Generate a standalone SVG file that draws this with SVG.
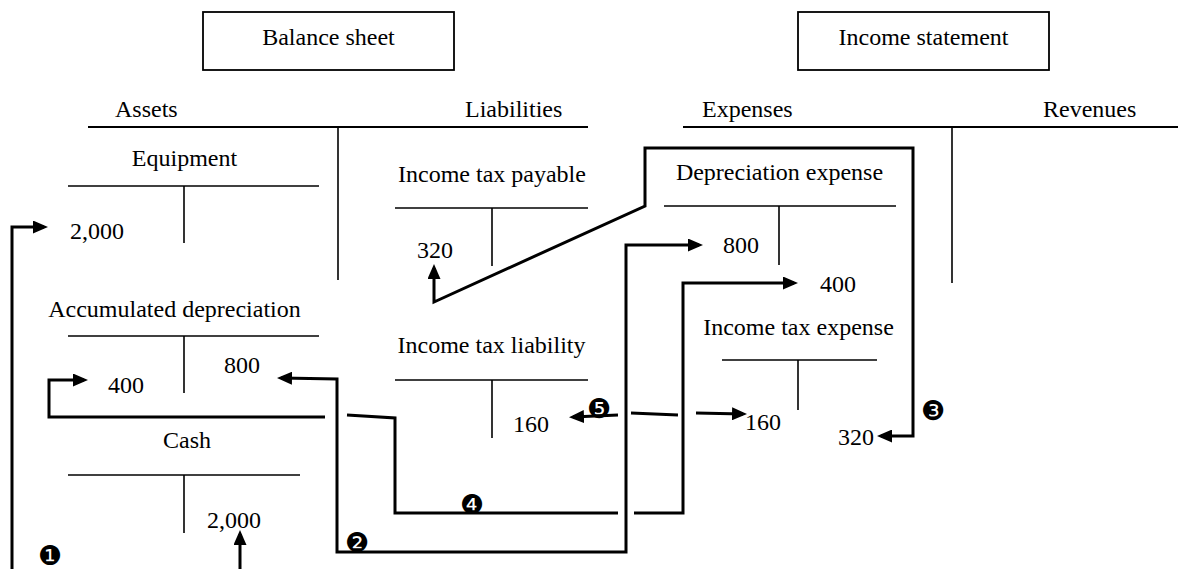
<svg xmlns="http://www.w3.org/2000/svg" width="1178" height="569" viewBox="0 0 1178 569">
  <style>
    text { font-family: "Liberation Serif", "Times New Roman", serif; font-size: 24px; fill: #000; }
    .mid { text-anchor: middle; }
    .tline { stroke: #000; stroke-width: 1.6; fill: none; }
    .rule { stroke: #000; stroke-width: 2.2; fill: none; }
    .box { stroke: #000; stroke-width: 1.8; fill: #fff; }
    .flow { stroke: #000; stroke-width: 3; fill: none; stroke-linejoin: miter; marker-start: url(#head); marker-end: url(#head); }
    .step { font-family: "DejaVu Sans", sans-serif; font-size: 27px; text-anchor: middle; dominant-baseline: central; }
  </style>
  <defs>
    <marker id="head" markerUnits="userSpaceOnUse" viewBox="0 0 15 13" markerWidth="15" markerHeight="13" refX="11" refY="6.5" orient="auto-start-reverse">
      <path d="M0,0 L15,6.5 L0,13 z" fill="#000"/>
    </marker>
  </defs>

  <rect width="1178" height="569" fill="#fff"/>

  <!-- statement headers -->
  <g id="balance-sheet">
    <rect class="box" x="203" y="12" width="251" height="58"/>
    <text class="mid" x="328.5" y="45">Balance sheet</text>
    <text x="115" y="117">Assets</text>
    <text x="465" y="117">Liabilities</text>
    <line class="rule" x1="88" y1="127" x2="588" y2="127"/>
    <line class="tline" x1="338" y1="127" x2="338" y2="280"/>
  </g>

  <g id="income-statement">
    <rect class="box" x="798" y="12" width="251" height="58"/>
    <text class="mid" x="923.5" y="45">Income statement</text>
    <text x="702" y="117">Expenses</text>
    <text x="1043" y="117">Revenues</text>
    <line class="rule" x1="683" y1="127" x2="1178" y2="127"/>
    <line class="tline" x1="952" y1="127" x2="952" y2="283"/>
  </g>

  <!-- T-accounts -->
  <g id="equipment">
    <text class="mid" x="184.5" y="166">Equipment</text>
    <line class="tline" x1="68" y1="186" x2="319" y2="186"/>
    <line class="tline" x1="184" y1="186" x2="184" y2="243"/>
    <text x="70" y="239">2,000</text>
  </g>

  <g id="accumulated-depreciation">
    <text class="mid" x="174.5" y="317">Accumulated depreciation</text>
    <line class="tline" x1="68" y1="336" x2="319" y2="336"/>
    <line class="tline" x1="184" y1="336" x2="184" y2="393"/>
    <text x="108" y="393">400</text>
    <text x="224" y="373">800</text>
  </g>

  <g id="cash">
    <text class="mid" x="187" y="448">Cash</text>
    <line class="tline" x1="68" y1="475" x2="300" y2="475"/>
    <line class="tline" x1="184" y1="475" x2="184" y2="533"/>
    <text x="207" y="528">2,000</text>
  </g>

  <g id="income-tax-payable">
    <text class="mid" x="492" y="182">Income tax payable</text>
    <line class="tline" x1="395" y1="208" x2="588" y2="208"/>
    <line class="tline" x1="492" y1="208" x2="492" y2="266"/>
    <text x="417" y="258">320</text>
  </g>

  <g id="income-tax-liability">
    <text class="mid" x="491.5" y="353">Income tax liability</text>
    <line class="tline" x1="395" y1="380" x2="588" y2="380"/>
    <line class="tline" x1="492" y1="380" x2="492" y2="438"/>
    <text x="513" y="432">160</text>
  </g>

  <g id="depreciation-expense">
    <text class="mid" x="779.5" y="180">Depreciation expense</text>
    <line class="tline" x1="664" y1="206" x2="896" y2="206"/>
    <line class="tline" x1="779" y1="206" x2="779" y2="265"/>
    <text x="723" y="253">800</text>
    <text x="820" y="292">400</text>
  </g>

  <g id="income-tax-expense">
    <text class="mid" x="798.5" y="335">Income tax expense</text>
    <line class="tline" x1="722" y1="360" x2="877" y2="360"/>
    <line class="tline" x1="798" y1="360" x2="798" y2="410"/>
    <text x="745" y="430">160</text>
    <text x="838" y="445">320</text>
  </g>

  <!-- entry connectors; gaps mark crossings -->
  <g id="connectors">
    <path class="flow" d="M240,534 L240,600 L12,600 L12,227 L44,227"/>
    <path class="flow" d="M281,378 L337,379 L337,552 L626,552 L626,245 L699,245"/>
    <path class="flow" d="M434,268 L434,302 L645,206 L645,148 L913,148 L913,436 L881,436"/>
    <path class="flow" d="M84,380 L49,380 L49,417 L325,417 M347,415 L395,418 L395,513 L618,513 M634,513 L683,513 L683,283 L794,283"/>
    <path class="flow" d="M573,417 L618,415 M631,413 L678,415 M696,413 L743,414"/>
    <text class="step" x="50" y="555">❶</text>
    <text class="step" x="357" y="542">❷</text>
    <text class="step" x="933" y="410">❸</text>
    <text class="step" x="472" y="504">❹</text>
    <text class="step" x="599" y="408">❺</text>
  </g>
</svg>
